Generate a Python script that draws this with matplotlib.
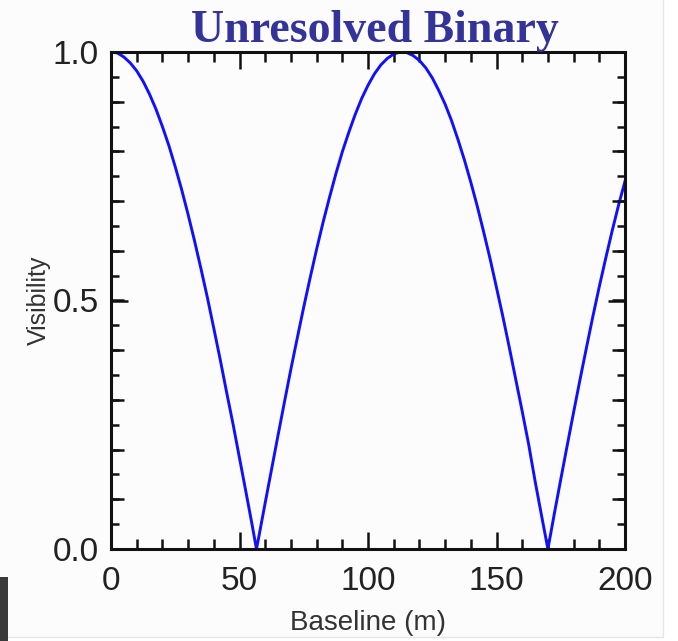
import matplotlib
matplotlib.use("Agg")
import matplotlib.pyplot as plt
from matplotlib.ticker import MultipleLocator, NullFormatter, NullLocator
from matplotlib.patches import Rectangle

# Data (baseline in m, visibility)
baseline = [0, 2.5, 5, 7.5, 10, 12.5, 15, 17.5, 20, 22.5, 25, 27.5, 30, 32.5, 35, 37.5,
            40, 42.5, 45, 47.5, 50, 52.5, 55, 56.6, 57.5, 60, 62.5, 65, 67.5, 70, 72.5,
            75, 77.5, 80, 82.5, 85, 87.5, 90, 92.5, 95, 97.5, 100, 102.5, 105, 107.5,
            110, 112.5, 113.3, 115, 117.5, 120, 122.5, 125, 127.5, 130, 132.5, 135,
            137.5, 140, 142.5, 145, 147.5, 150, 152.5, 155, 157.5, 160, 162.5, 165,
            167.5, 170, 172.5, 175, 177.5, 180, 182.5, 185, 187.5, 190, 192.5, 195,
            197.5, 200]
visibility = [1.000, 0.998, 0.990, 0.978, 0.962, 0.941, 0.915, 0.885, 0.850, 0.812, 0.769,
              0.723, 0.673, 0.620, 0.564, 0.506, 0.444, 0.381, 0.315, 0.251, 0.183, 0.115,
              0.046, 0.000, 0.024, 0.093, 0.161, 0.229, 0.296, 0.362, 0.425, 0.487, 0.546,
              0.603, 0.657, 0.707, 0.755, 0.799, 0.838, 0.874, 0.906, 0.933, 0.956, 0.974,
              0.987, 0.996, 1.000, 1.000, 0.999, 0.993, 0.983, 0.968, 0.948, 0.923, 0.895,
              0.862, 0.824, 0.783, 0.738, 0.690, 0.638, 0.584, 0.526, 0.467, 0.405, 0.341,
              0.277, 0.211, 0.137, 0.068, 0.000, 0.071, 0.140, 0.208, 0.275, 0.341, 0.405,
              0.468, 0.528, 0.585, 0.640, 0.692, 0.740]
x_ticks = [0, 50, 100, 150, 200]
x_tick_labels = ["0", "50", "100", "150", "200"]
y_ticks = [0.0, 0.5, 1.0]
y_tick_labels = ["0.0", "0.5", "1.0"]
title = "Unresolved Binary"
xlabel = "Baseline (m)"
ylabel = "Visibility"

plt.rcParams['font.family'] = ['Liberation Sans', 'DejaVu Sans']

fig = plt.figure(figsize=(6.78, 6.41), dpi=100)
fig.patch.set_facecolor('white')

# slightly off-white panel with faint border (as in the screenshot)
fig.patches.append(Rectangle((-0.01, 1 - 637/641), 663/678 + 0.01, 637/641 + 0.01,
                             transform=fig.transFigure, facecolor='#fcfcfc',
                             edgecolor='#e6e6e6', lw=1.0, zorder=-10))

pos = [111/678, 1-549/641, (625-111)/678, (549-52)/641]
ax = fig.add_axes(pos)
ax.set_facecolor('#fcfcfc')

ax.plot(baseline, visibility, color='#1010ff', lw=2.1, solid_joinstyle='round')
ax.set_xlim(0, 200)
ax.set_ylim(0, 1)

ax.set_xticks(x_ticks)
ax.set_xticklabels(x_tick_labels)
ax.set_yticks(y_ticks)
ax.set_yticklabels(y_tick_labels)
ax.xaxis.set_minor_locator(MultipleLocator(10))
ax.yaxis.set_minor_locator(MultipleLocator(0.05))

for s in ax.spines.values():
    s.set_linewidth(2.2)
    s.set_color('#111111')

ax.tick_params(which='both', direction='in', top=True, right=True, width=1.8, colors='#111111')
ax.tick_params(which='major', length=12.5, labelsize=24, labelcolor='#222222')
ax.tick_params(axis='x', which='major', pad=12)
ax.tick_params(axis='y', which='major', pad=9)
ax.tick_params(axis='x', which='minor', length=7)
ax.tick_params(axis='y', which='minor', length=6)

# overlay axes for medium-length y ticks every 0.1
ax2 = fig.add_axes(pos, frameon=False)
ax2.patch.set_visible(False)
ax2.set_ylim(0, 1)
ax2.set_xlim(0, 200)
ax2.xaxis.set_major_locator(NullLocator())
ax2.xaxis.set_minor_locator(NullLocator())
ax2.yaxis.set_major_locator(NullLocator())
ax2.yaxis.set_minor_locator(MultipleLocator(0.1))
ax2.yaxis.set_minor_formatter(NullFormatter())
ax2.tick_params(axis='y', which='minor', direction='in', left=True, right=True,
                length=9.5, width=1.8, colors='#111111')

ax.set_xlabel(xlabel, fontsize=20, color='#333333')
ax.xaxis.set_label_coords(0.5, -0.122)
ax.set_ylabel(ylabel, fontsize=18, color='#333333')
ax.yaxis.set_label_coords(-0.117, 0.5)

fig.text(375/678, 1-42/641, title, ha='center', va='baseline', fontsize=33,
         fontweight='bold', family=['Liberation Serif', 'DejaVu Serif'], color='#333399')

# dark block at bottom-left edge
fig.patches.append(Rectangle((0, 0), 8/678, 64/641, transform=fig.transFigure,
                             facecolor='#3a3a3a', edgecolor='none'))

fig.savefig('out.png', dpi=100, facecolor=fig.get_facecolor())
